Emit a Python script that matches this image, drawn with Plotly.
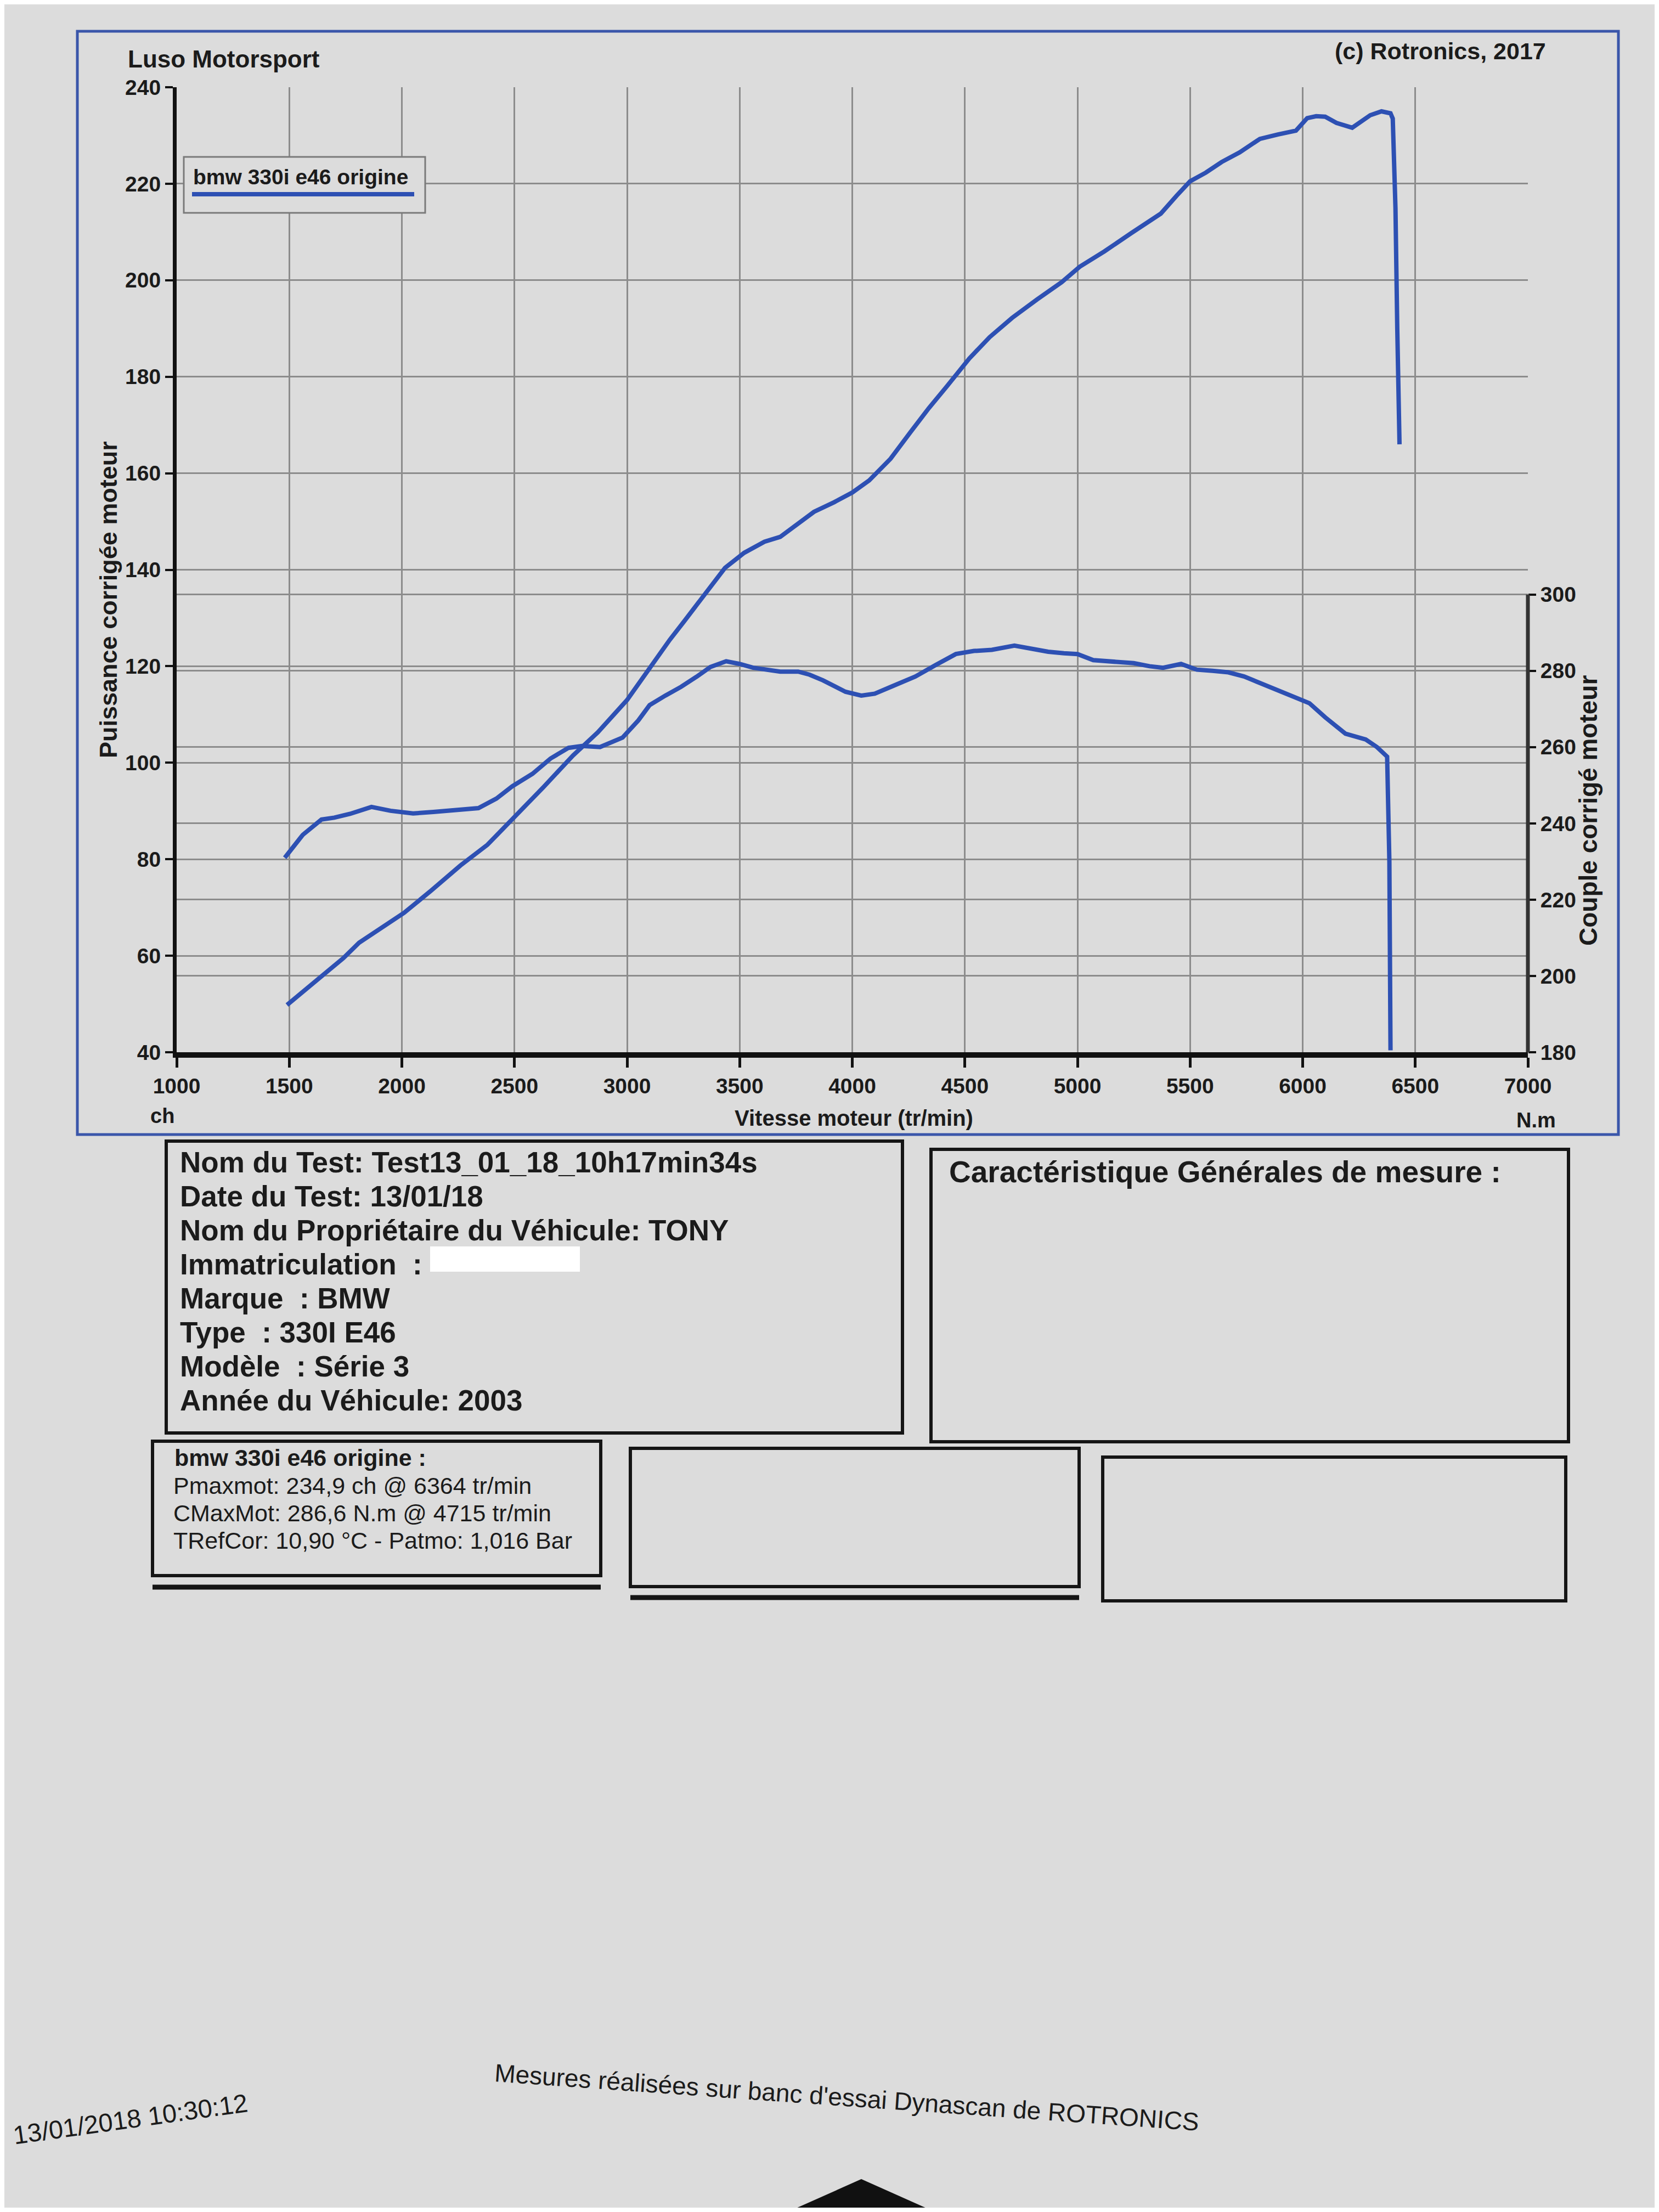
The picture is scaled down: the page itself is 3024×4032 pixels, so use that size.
import plotly.graph_objects as go

# ---------------- data ----------------
rpm_power = [1490, 1560, 1667, 1740, 1810, 1900, 2010, 2130, 2260, 2380, 2500, 2630, 2760, 2870,
             3000, 3060, 3120, 3190, 3255, 3340, 3435, 3520, 3610, 3680, 3760, 3830, 3920, 4000,
             4075, 4170, 4260, 4340, 4420, 4520, 4610, 4710, 4820, 4930, 5010, 5120, 5240, 5370,
             5440, 5500, 5570, 5640, 5720, 5810, 5890, 5970, 6020, 6060, 6100, 6150, 6220, 6260,
             6300, 6350, 6390, 6400, 6412, 6420, 6430]
power_ch = [49.8, 52.5, 56.4, 59.5, 62.7, 65.5, 68.9, 73.5, 78.7, 83.0, 88.7, 95.0, 101.5, 106.3,
            113.0, 117.0, 121.0, 125.5, 129.4, 134.5, 140.4, 143.5, 145.8, 146.8, 149.5, 152.0, 154.0, 156.0,
            158.5, 163.0, 168.6, 173.5, 178.0, 183.8, 188.2, 192.2, 196.0, 199.6, 202.8, 206.0, 209.8, 213.8,
            217.5, 220.5, 222.3, 224.5, 226.5, 229.3, 230.2, 231.0, 233.6, 234.0, 233.9, 232.6, 231.6, 233.0,
            234.2, 235.0, 234.6, 233.5, 215.0, 190.0, 166.0]

rpm_torque = [1480, 1560, 1643, 1700, 1770, 1865, 1950, 2050, 2140, 2250, 2340, 2420, 2490, 2580,
              2660, 2740, 2800, 2880, 2980, 3050, 3100, 3170, 3240, 3310, 3370, 3440, 3500, 3560,
              3620, 3680, 3760, 3810, 3870, 3920, 3970, 4040, 4100, 4180, 4280, 4370, 4460, 4540,
              4620, 4720, 4800, 4870, 4940, 5000, 5070, 5160, 5250, 5320, 5380, 5460, 5530, 5600,
              5670, 5740, 5800, 5880, 5960, 6030, 6100, 6190, 6280, 6330, 6375, 6385, 6390]
torque_nm = [231.0, 237.0, 241.0, 241.5, 242.5, 244.3, 243.3, 242.6, 243.0, 243.6, 244.0, 246.5, 249.7, 253.0,
             257.0, 259.8, 260.3, 260.0, 262.5, 267.0, 271.0, 273.5, 275.8, 278.5, 281.0, 282.5, 281.8, 280.8,
             280.2, 279.8, 279.8, 279.0, 277.5, 276.0, 274.5, 273.5, 274.0, 276.0, 278.5, 281.5, 284.4, 285.2,
             285.5, 286.6, 285.8, 285.0, 284.6, 284.4, 282.8, 282.5, 282.0, 281.2, 280.8, 281.8, 280.3, 280.0,
             279.6, 278.5, 277.0, 275.0, 273.0, 271.5, 267.8, 263.5, 262.0, 260.0, 257.5, 230.0, 180.5]

rpm_ticks = [1000, 1500, 2000, 2500, 3000, 3500, 4000, 4500, 5000, 5500, 6000, 6500, 7000]
power_ticks = [40, 60, 80, 100, 120, 140, 160, 180, 200, 220, 240]
torque_ticks = [180, 200, 220, 240, 260, 280, 300]

series_name = "bmw 330i e46 origine"
info_lines = [
    "Nom du Test: Test13_01_18_10h17min34s",
    "Date du Test: 13/01/18",
    "Nom du Propriétaire du Véhicule: TONY",
    "Immatriculation  :",
    "Marque  : BMW",
    "Type  : 330I E46",
    "Modèle  : Série 3",
    "Année du Véhicule: 2003",
]
result_title = "bmw 330i e46 origine :"
result_lines = [
    "Pmaxmot: 234,9 ch @ 6364 tr/min",
    "CMaxMot: 286,6 N.m @ 4715 tr/min",
    "TRefCor: 10,90 °C - Patmo: 1,016 Bar",
]

# ---------------- geometry helpers (page pixels -> paper) ----------------
W, H = 3008, 4016
OFF = 8


def X(px):
    return (px - OFF) / W


def Y(py):
    return 1 - (py - OFF) / H


FONT = "Liberation Sans, Arial, sans-serif"
BG = "#dcdcdc"
BLUE = "#2d50b3"
INK = "#1b1b1b"

PL, PR, PT, PB = 322, 2785, 159, 1918

fig = go.Figure()
fig.add_trace(go.Scatter(x=rpm_power, y=power_ch, mode="lines", name=series_name,
                         line=dict(color=BLUE, width=8), yaxis="y", showlegend=False))
fig.add_trace(go.Scatter(x=rpm_torque, y=torque_nm, mode="lines", name=series_name,
                         line=dict(color=BLUE, width=8), yaxis="y2", showlegend=False))

tickfont = dict(family=FONT, size=39, color=INK, weight="bold")

fig.update_layout(
    width=W, height=H,
    margin=dict(l=0, r=0, t=0, b=0, autoexpand=False),
    paper_bgcolor=BG, plot_bgcolor=BG,
    showlegend=False,
    xaxis=dict(domain=[X(PL), X(PR)], range=[1000, 7000], tickvals=rpm_ticks, automargin=False,
               showline=True, linewidth=10, linecolor="#111",
               ticks="outside", ticklen=18, tickwidth=5, tickcolor="#111",
               showgrid=True, gridcolor="#8c8c8c", gridwidth=3, zeroline=False,
               tickfont=tickfont),
    yaxis=dict(domain=[Y(PB), Y(PT)], range=[40, 240], tickvals=power_ticks, automargin=False,
               showline=True, linewidth=7, linecolor="#111",
               ticks="outside", ticklen=14, tickwidth=4, tickcolor="#111",
               showgrid=True, gridcolor="#8c8c8c", gridwidth=3, zeroline=False,
               tickfont=tickfont),
    yaxis2=dict(overlaying="y", side="right", range=[180, 433], tickvals=torque_ticks, automargin=False,
                showline=False, ticks="outside", ticklen=14, tickwidth=4, tickcolor="#111",
                showgrid=True, gridcolor="#8c8c8c", gridwidth=3, zeroline=False,
                tickfont=tickfont),
)

shapes = []
# blue frame around the chart
shapes.append(dict(type="rect", xref="paper", yref="paper", x0=X(141), x1=X(2950), y0=Y(2068), y1=Y(57),
                   line=dict(color="#3a56aa", width=5), fillcolor="rgba(0,0,0,0)", layer="below"))
# right torque axis line (180..300)
shapes.append(dict(type="line", xref="paper", yref="y2", x0=X(PR), x1=X(PR), y0=180, y1=300,
                   line=dict(color="#333", width=7)))
# legend box
shapes.append(dict(type="rect", xref="paper", yref="paper", x0=X(335), x1=X(775), y0=Y(388), y1=Y(286),
                   line=dict(color="#7a7a7a", width=3), fillcolor=BG, layer="above"))
shapes.append(dict(type="line", xref="paper", yref="paper", x0=X(350), x1=X(755), y0=Y(354), y1=Y(354),
                   line=dict(color=BLUE, width=8), layer="above"))

# info boxes
def box(x0, y0, x1, y1, w=6):
    shapes.append(dict(type="rect", xref="paper", yref="paper", x0=X(x0), x1=X(x1), y0=Y(y1), y1=Y(y0),
                       line=dict(color="#151515", width=w), fillcolor="rgba(0,0,0,0)"))

box(303, 2080, 1645, 2612)
box(1697, 2095, 2859, 2628)
box(278, 2627, 1095, 2872)
box(1149, 2640, 1967, 2892)
box(2010, 2656, 2854, 2918)
# underline bars
for x0, x1, yy in [(278, 1095, 2893), (1149, 1967, 2912)]:
    shapes.append(dict(type="line", xref="paper", yref="paper", x0=X(x0), x1=X(x1), y0=Y(yy), y1=Y(yy),
                       line=dict(color="#151515", width=9)))
# redaction rectangle
shapes.append(dict(type="rect", xref="paper", yref="paper", x0=X(784), x1=X(1057), y0=Y(2318), y1=Y(2272),
                   line=dict(width=0), fillcolor="#ffffff"))
# dark object at the bottom of the photo
shapes.append(dict(type="path", xref="paper", yref="paper",
                   path=f"M {X(1440)} {Y(4030)} L {X(1570)} {Y(3972)} L {X(1700)} {Y(4030)} Z",
                   line=dict(width=0), fillcolor="#111"))

fig.update_layout(shapes=shapes)

ann = []


def text(x, y, s, size, bold=False, xanchor="left", angle=0, color=INK):
    ann.append(dict(x=X(x), y=Y(y), xref="paper", yref="paper", text=(f"<b>{s}</b>" if bold else s),
                    showarrow=False, xanchor=xanchor, yanchor="middle", textangle=angle,
                    font=dict(family=FONT, size=size, color=color)))


text(231, 108, "Luso Motorsport", 44, bold=True)
text(2820, 93, "(c) Rotronics, 2017", 43, bold=True, xanchor="right")
text(198, 1093, "Puissance corrigée moteur", 45, bold=True, xanchor="center", angle=-90)
text(2895, 1478, "Couple corrigé moteur", 46, bold=True, xanchor="center", angle=-90)
text(1556, 2038, "Vitesse moteur (tr/min)", 40, bold=True, xanchor="center")
text(296, 2034, "ch", 38, bold=True, xanchor="center")
text(2800, 2042, "N.m", 38, bold=True, xanchor="center")
text(350, 322, series_name, 39, bold=True)

for i, line in enumerate(info_lines):
    text(326, 2118 + i * 62, line, 53, bold=True)
text(1728, 2136, "Caractéristique Générales de mesure :", 55, bold=True)

text(316, 2657, result_title, 43, bold=True)
for i, line in enumerate(result_lines):
    text(314, 2708 + i * 50, line, 43)

text(1543, 3823, "Mesures réalisées sur banc d'essai Dynascan de ROTRONICS", 46, xanchor="center", angle=4)
text(237, 3862, "13/01/2018 10:30:12", 47, xanchor="center", angle=-8)

fig.update_layout(annotations=ann)

fig.write_html("out.html")
